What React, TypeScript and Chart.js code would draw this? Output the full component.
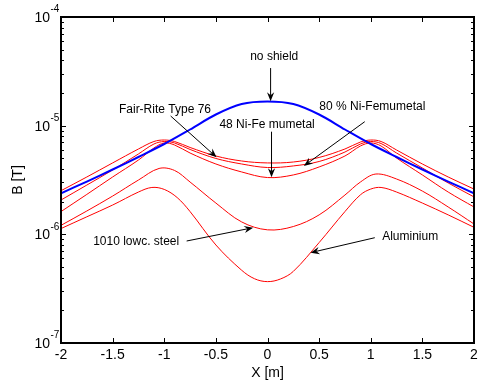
import React, { useEffect, useRef } from "react";
import { Chart, registerables } from "chart.js";

Chart.register(...registerables);

// ---------- data ----------
const X_BLUE = [-2, -1.75, -1.5, -1.25, -1, -0.75, -0.5, -0.25, 0, 0.25, 0.5, 0.75, 1, 1.25, 1.5, 1.75, 2];
const NO_SHIELD = [2.385e-6, 3.06e-6, 3.95e-6, 5.15e-6, 6.78e-6, 9.22e-6, 1.267e-5, 1.582e-5, 1.669e-5, 1.582e-5, 1.267e-5, 9.22e-6, 6.78e-6, 5.15e-6, 3.95e-6, 3.06e-6, 2.385e-6];

const X_UPPER = [-2, -1.75, -1.5, -1.25, -1.1, -1, -0.9, -0.75, -0.5, -0.25, 0, 0.25, 0.5, 0.75, 0.9, 1, 1.1, 1.25, 1.5, 1.75, 2];
const FAIR_RITE = [2.52e-6, 3.37e-6, 4.54e-6, 6.10e-6, 7.15e-6, 7.38e-6, 7.15e-6, 6.30e-6, 5.26e-6, 4.73e-6, 4.54e-6, 4.63e-6, 5.10e-6, 6.10e-6, 7.07e-6, 7.38e-6, 7.15e-6, 5.97e-6, 4.44e-6, 3.37e-6, 2.61e-6];
const NIFE_80 = [2.07e-6, 2.84e-6, 3.91e-6, 5.49e-6, 6.78e-6, 7.15e-6, 6.93e-6, 6.04e-6, 4.99e-6, 4.44e-6, 4.12e-6, 4.26e-6, 4.68e-6, 5.72e-6, 6.78e-6, 7.15e-6, 6.85e-6, 5.60e-6, 4.08e-6, 2.97e-6, 2.21e-6];
const NIFE_48 = [1.62e-6, 2.33e-6, 3.37e-6, 4.83e-6, 6.23e-6, 6.93e-6, 6.64e-6, 5.60e-6, 4.44e-6, 3.75e-6, 3.33e-6, 3.52e-6, 4.17e-6, 5.26e-6, 6.50e-6, 6.93e-6, 6.50e-6, 5.04e-6, 3.52e-6, 2.45e-6, 1.785e-6];

const X_STEEL = [-2, -1.75, -1.5, -1.25, -1.05, -0.9, -0.75, -0.5, -0.25, 0, 0.25, 0.5, 0.75, 0.9, 1.05, 1.25, 1.5, 1.75, 2];
const STEEL_1010 = [1.21e-6, 1.64e-6, 2.25e-6, 3.16e-6, 4.04e-6, 3.87e-6, 3.03e-6, 1.94e-6, 1.30e-6, 1.10e-6, 1.18e-6, 1.51e-6, 2.30e-6, 3.03e-6, 3.59e-6, 3.23e-6, 2.50e-6, 1.785e-6, 1.245e-6];

const X_ALU = [-2, -1.75, -1.5, -1.25, -1.12, -1, -0.875, -0.75, -0.5, -0.25, -0.125, 0, 0.125, 0.25, 0.5, 0.75, 0.9, 1, 1.1, 1.25, 1.5, 1.75, 2];
const ALUMINIUM = [1.13e-6, 1.45e-6, 1.86e-6, 2.45e-6, 2.70e-6, 2.59e-6, 2.18e-6, 1.62e-6, 7.98e-7, 4.67e-7, 3.90e-7, 3.67e-7, 3.88e-7, 4.56e-7, 8.40e-7, 1.62e-6, 2.31e-6, 2.61e-6, 2.70e-6, 2.45e-6, 1.94e-6, 1.51e-6, 1.16e-6];

const X_TICKS = [-2, -1.5, -1, -0.5, 0, 0.5, 1, 1.5, 2];
const Y_DECADES = [-7, -6, -5, -4];
const Y_MINOR_MULTS = [2, 3, 4, 5, 6, 7, 8, 9];

const X_TITLE = "X [m]";
const Y_TITLE = "B [T]";

// annotations in data coordinates: text centre, arrow start, arrow tip
const ANNOTATIONS = [
  { text: "no shield", tx: 0.065, ty: 4.28e-5, x0: 0.03, y0: 3.39e-5, x1: 0.03, y1: 1.68e-5 },
  { text: "Fair-Rite Type 76", tx: -0.993, ty: 1.393e-5, x0: -0.938, y0: 1.227e-5, x1: -0.493, y1: 5.12e-6 },
  { text: "48 Ni-Fe mumetal", tx: -0.004, ty: 1.014e-5, x0: 0.039, y0: 8.8e-6, x1: 0.039, y1: 3.35e-6 },
  { text: "80 % Ni-Femumetal", tx: 1.015, ty: 1.495e-5, x0: 0.942, y0: 1.088e-5, x1: 0.352, y1: 4.255e-6 },
  { text: "1010 lowc. steel", tx: -1.272, ty: 8.56e-7, x0: -0.783, y0: 8.68e-7, x1: -0.139, y1: 1.151e-6 },
  { text: "Aluminium", tx: 1.382, ty: 9.51e-7, x0: 1.039, y0: 9.31e-7, x1: 0.417, y1: 6.78e-7 },
];

const FONT = '"Liberation Sans", Arial, Helvetica, sans-serif';

function pts(xs: number[], ys: number[]) {
  return xs.map((x, i) => ({ x, y: ys[i] }));
}

function drawArrow(ctx: CanvasRenderingContext2D, x0: number, y0: number, x1: number, y1: number) {
  const ang = Math.atan2(y1 - y0, x1 - x0);
  const c = Math.cos(ang), s = Math.sin(ang);
  const L = 9, W = 3.6, N = 6;
  ctx.beginPath();
  ctx.moveTo(x0, y0);
  ctx.lineTo(x1 - c * N, y1 - s * N);
  ctx.stroke();
  const bx = x1 - c * L, by = y1 - s * L;
  const px = -s * W, py = c * W;
  ctx.beginPath();
  ctx.moveTo(x1, y1);
  ctx.lineTo(bx + px, by + py);
  ctx.lineTo(x1 - c * N, y1 - s * N);
  ctx.lineTo(bx - px, by - py);
  ctx.closePath();
  ctx.fill();
}

const framePlugin = {
  id: "matlabFrame",
  afterDraw(chart: any) {
    const { ctx, chartArea: a, scales } = chart;
    const xs = scales.x, ys = scales.y;
    ctx.save();
    ctx.strokeStyle = "#000";
    ctx.fillStyle = "#000";

    // annotations
    ctx.lineWidth = 1;
    ctx.font = `12px ${FONT}`;
    ctx.textAlign = "center";
    ctx.textBaseline = "middle";
    for (const an of ANNOTATIONS) {
      ctx.fillText(an.text, xs.getPixelForValue(an.tx), ys.getPixelForValue(an.ty));
      drawArrow(
        ctx,
        xs.getPixelForValue(an.x0), ys.getPixelForValue(an.y0),
        xs.getPixelForValue(an.x1), ys.getPixelForValue(an.y1)
      );
    }

    // ticks (inward, all four sides)
    ctx.lineWidth = 1;
    ctx.beginPath();
    for (const v of X_TICKS) {
      const px = Math.round(xs.getPixelForValue(v)) + 0.5;
      ctx.moveTo(px, a.bottom); ctx.lineTo(px, a.bottom - 5);
      ctx.moveTo(px, a.top); ctx.lineTo(px, a.top + 5);
    }
    for (const e of Y_DECADES) {
      const py = Math.round(ys.getPixelForValue(Math.pow(10, e))) + 0.5;
      ctx.moveTo(a.left, py); ctx.lineTo(a.left + 5, py);
      ctx.moveTo(a.right, py); ctx.lineTo(a.right - 5, py);
      if (e < Y_DECADES[Y_DECADES.length - 1]) {
        for (const m of Y_MINOR_MULTS) {
          const pm = Math.round(ys.getPixelForValue(m * Math.pow(10, e))) + 0.5;
          ctx.moveTo(a.left, pm); ctx.lineTo(a.left + 3, pm);
          ctx.moveTo(a.right, pm); ctx.lineTo(a.right - 3, pm);
        }
      }
    }
    ctx.stroke();

    // box
    ctx.lineWidth = 2;
    ctx.strokeRect(a.left, a.top, a.right - a.left, a.bottom - a.top);

    // y tick labels 10^e
    for (const e of Y_DECADES) {
      const py = ys.getPixelForValue(Math.pow(10, e));
      ctx.font = `14px ${FONT}`;
      ctx.textAlign = "right";
      ctx.textBaseline = "middle";
      ctx.fillText("10", a.left - 11, py + 1);
      ctx.font = `10px ${FONT}`;
      ctx.textAlign = "left";
      ctx.fillText(String(e), a.left - 10.5, py - 7.5);
    }

    // axis titles
    ctx.font = `14px ${FONT}`;
    ctx.textAlign = "center";
    ctx.textBaseline = "middle";
    ctx.fillText(X_TITLE, (a.left + a.right) / 2, 373);
    ctx.save();
    ctx.translate(18, (a.top + a.bottom) / 2);
    ctx.rotate(-Math.PI / 2);
    ctx.fillText(Y_TITLE, 0, 0);
    ctx.restore();

    ctx.restore();
  },
};

export default function App() {
  const ref = useRef<HTMLCanvasElement>(null);
  useEffect(() => {
    if (!ref.current) return;
    const red = "#ff0000";
    const mk = (label: string, xs: number[], ys: number[], color: string, w: number) => ({
      label,
      data: pts(xs, ys),
      borderColor: color,
      backgroundColor: color,
      borderWidth: w,
      pointRadius: 0,
      fill: false,
      tension: 0.35,
    });
    const chart = new Chart(ref.current, {
      type: "line",
      data: {
        datasets: [
          mk("no shield", X_BLUE, NO_SHIELD, "#0000ff", 2),
          mk("Fair-Rite Type 76", X_UPPER, FAIR_RITE, red, 1),
          mk("80 % Ni-Femumetal", X_UPPER, NIFE_80, red, 1),
          mk("48 Ni-Fe mumetal", X_UPPER, NIFE_48, red, 1),
          mk("1010 lowc. steel", X_STEEL, STEEL_1010, red, 1),
          mk("Aluminium", X_ALU, ALUMINIUM, red, 1),
        ],
      },
      options: {
        responsive: false,
        animation: false,
        devicePixelRatio: 1,
        layout: { padding: { top: 17, right: 4, bottom: 0, left: 0 } },
        plugins: { legend: { display: false }, tooltip: { enabled: false }, title: { display: false } },
        scales: {
          x: {
            type: "linear",
            min: -2,
            max: 2,
            ticks: {
              stepSize: 0.5,
              color: "#000",
              font: { family: FONT, size: 14 },
              padding: 4,
              maxRotation: 0,
              autoSkip: false,
              callback: (v: any) => String(Number(v)),
            },
            grid: { display: false, drawTicks: false },
            border: { display: false },
            afterFit: (s: any) => { s.height = 41; s.paddingRight = 0; s.paddingLeft = 0; },
          },
          y: {
            type: "logarithmic",
            min: 1e-7,
            max: 1e-4,
            ticks: { display: false },
            grid: { display: false, drawTicks: false },
            border: { display: false },
            afterFit: (s: any) => { s.width = 61; s.paddingTop = 0; s.paddingBottom = 0; },
          },
        },
      },
      plugins: [framePlugin],
    });
    return () => chart.destroy();
  }, []);
  return (
    <div style={{ position: "fixed", left: 0, top: 0, width: 478, height: 384, background: "#fff" }}>
      <canvas ref={ref} width={478} height={384} style={{ display: "block", width: 478, height: 384 }} />
    </div>
  );
}
